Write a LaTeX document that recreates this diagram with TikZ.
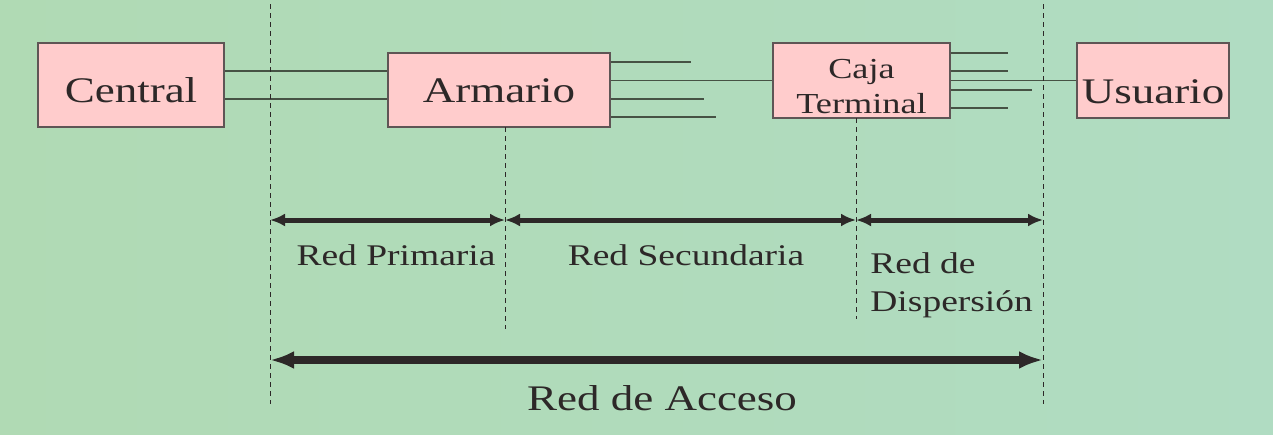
\documentclass[tikz,border=0pt]{standalone}
\usepackage{fontspec}
\setmainfont{Liberation Serif}[FakeStretch=1.25]
\usetikzlibrary{arrows.meta}
\definecolor{bgleft}{RGB}{176,218,180}
\definecolor{bgmid}{RGB}{192,224,186}
\definecolor{bgright}{RGB}{176,220,194}
\definecolor{boxpink}{RGB}{255,204,204}
\definecolor{boxedge}{RGB}{95,85,85}
\definecolor{wirecol}{RGB}{70,82,68}
\definecolor{inkcol}{RGB}{45,40,40}

\begin{document}
\begin{tikzpicture}[
  x=0.5pt, y=-0.5pt,
  pbox/.style={draw=boxedge, line width=0.9pt, fill=boxpink, inner sep=0pt, text depth=0pt, text=inkcol, font=\fontsize{18}{20}\selectfont},
  wire/.style={draw=wirecol, line width=0.9pt},
  guide/.style={draw=inkcol, line width=0.5pt, dash pattern=on 2.5pt off 2pt},
  arr/.style={{Latex[length=7.5pt,width=6.5pt]}-{Latex[length=7.5pt,width=6.5pt]}, line width=2.5pt, draw=inkcol},
  bigarr/.style={{Latex[length=12pt,width=9pt]}-{Latex[length=12pt,width=9pt]}, line width=4pt, draw=inkcol},
  lbl/.style={text=inkcol, inner sep=0pt, font=\fontsize{15}{19}\selectfont},
]
\useasboundingbox (0,0) rectangle (1273,434);
\shade[left color=bgleft, middle color=bgmid, right color=bgright] (0,0) rectangle (1273,434);

\node[pbox, minimum width=93pt, minimum height=42pt, text height=17pt] (central) at (131,85) {Central};
\node[pbox, minimum width=111pt, minimum height=37pt, text height=12pt] (armario) at (499,90) {Armario};
\node[pbox, minimum width=88.5pt, minimum height=37.5pt, align=center, text height=32.5pt, font=\fontsize{14.5}{17.5}\selectfont] (caja) at (861.5,80.5) {Caja\\Terminal};
\node[pbox, minimum width=76pt, minimum height=37.5pt, text height=22.5pt] (usuario) at (1153,80.5) {Usuario};

\draw[wire] ([yshift=7pt]central.east) -- ([yshift=7pt]central.east -| armario.west);
\draw[wire] ([yshift=-7pt]central.east) -- ([yshift=-7pt]central.east -| armario.west);
\foreach \n/\xx/\yy in {1/691/62, 2/704/99, 3/716/117} {
  \coordinate (ae\n) at (\xx,\yy);
  \draw[wire] (armario.east |- ae\n) -- (ae\n);
}
\draw[wire] (armario.east |- caja.west) -- (caja.west);
\foreach \n/\xx/\yy in {1/1008/53, 2/1008/71, 3/1032/90, 4/1008/108} {
  \coordinate (ce\n) at (\xx,\yy);
  \draw[wire] (caja.east |- ce\n) -- (ce\n);
}
\draw[wire] (caja) -- (usuario);

\coordinate (d1t) at (270,4);   \coordinate (d1b) at (270,404);
\coordinate (d2t) at (505,127); \coordinate (d2b) at (505,329);
\coordinate (d3t) at (856,118); \coordinate (d3b) at (856,319);
\coordinate (d4t) at (1043,4);  \coordinate (d4b) at (1043,404);
\foreach \n in {1,...,4} \draw[guide] (d\n t) -- (d\n b);

\coordinate (r1) at (0,220);
\coordinate (r2) at (0,360);
\draw[arr] (d1t |- r1) -- (d2t |- r1);
\draw[arr] (d2t |- r1) -- (d3t |- r1);
\draw[arr] (d3t |- r1) -- (d4t |- r1);
\draw[bigarr] (d1t |- r2) -- (d4t |- r2);

\node[lbl, anchor=base] (prim) at (396,265) {Red Primaria};
\node[lbl, anchor=base] (sec) at (686,265) {Red Secundaria};
\node[lbl, anchor=base west, align=left] (disp) at (870,311) {Red de\\Dispersión};
\node[lbl, anchor=base, font=\fontsize{18}{20}\selectfont] (acc) at (662,410) {Red de Acceso};
\end{tikzpicture}
\end{document}
